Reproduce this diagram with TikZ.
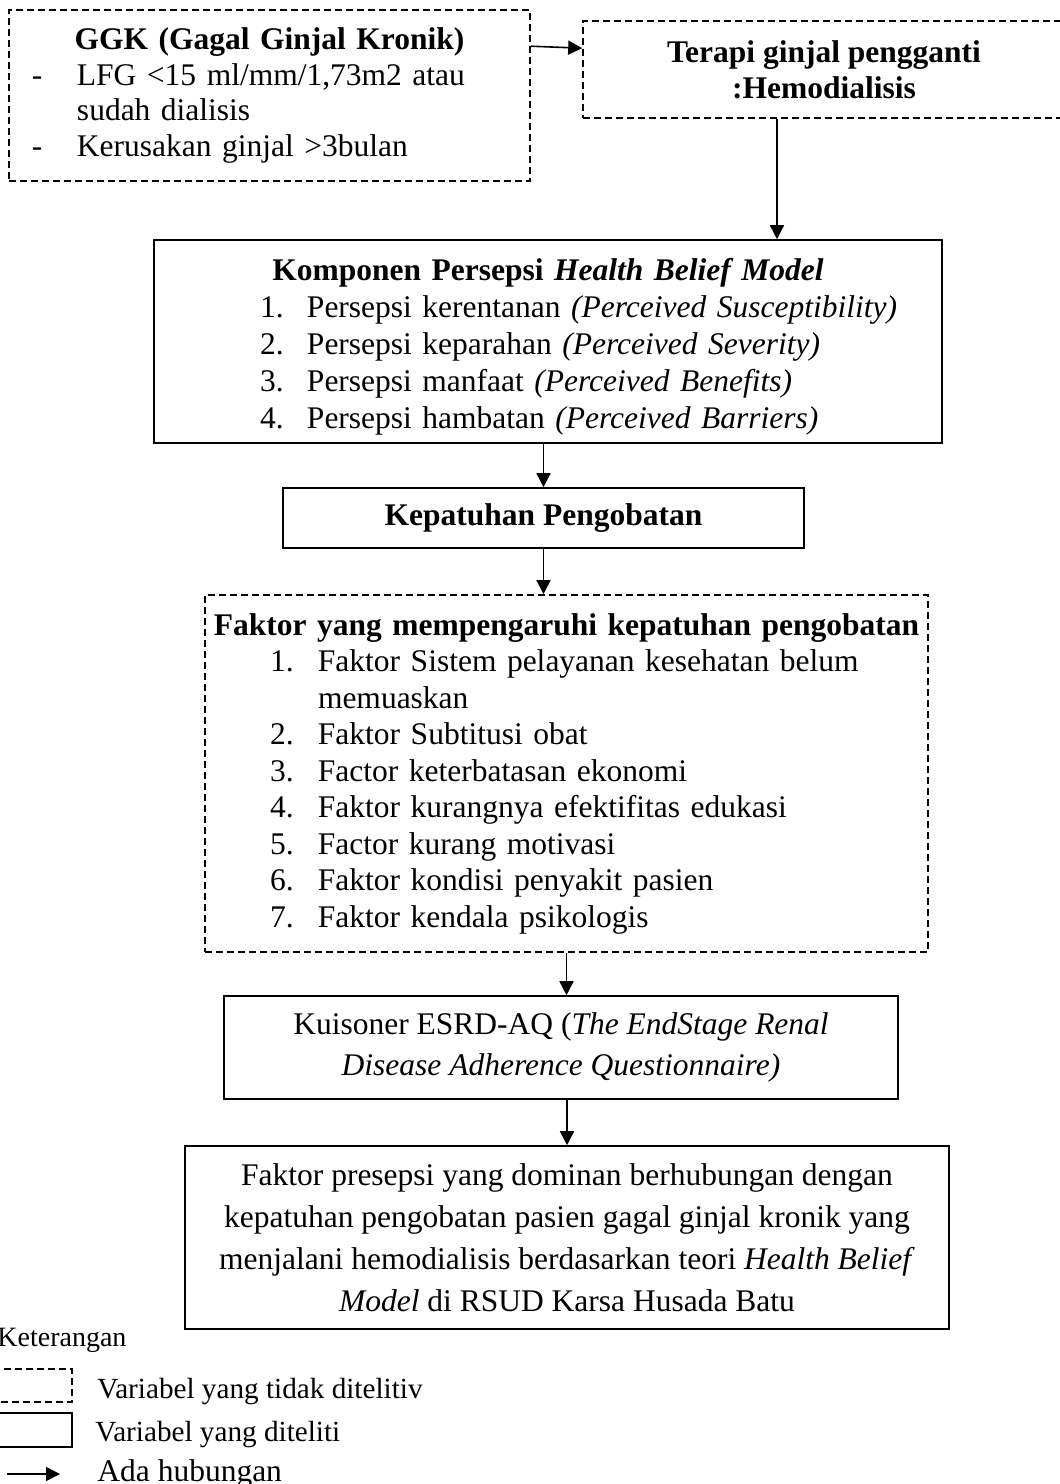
\documentclass[tikz,border=0pt]{standalone}
\usepackage{fontspec}
\setmainfont{Liberation Serif}
\usetikzlibrary{arrows.meta}
% one line of a list: indent, label width, label, text
\newcommand{\entry}[4]{\par\noindent\hspace*{#1}\makebox[#2][l]{#3}\mbox{#4}}

\begin{document}
\begin{tikzpicture}[x=0.5pt,y=-0.5pt,>={Triangle[length=7pt,width=7pt]},font=\fontsize{15.75pt}{18.25pt}\selectfont]
\tikzset{box/.style={draw,line width=0.8pt,inner sep=0pt}, dbox/.style={box,dash pattern=on 3.5pt off 2pt}, flow/.style={->,line width=0.8pt}}
\useasboundingbox (0,0) rectangle (1060,1484);
\node[dbox,minimum width=260.5pt,minimum height=85.5pt,text width=260.5pt,font=\fontsize{15.75pt}{17.85pt}\selectfont] (ggk) at (269.5,95.5) {\noindent\makebox[\linewidth]{\textbf{GGK (Gagal Ginjal Kronik)}}
\entry{11.5pt}{22.5pt}{-}{LFG <15 ml/mm/1,73m2 atau}
\entry{34pt}{0pt}{}{sudah dialisis}
\entry{11.5pt}{22.5pt}{-}{Kerusakan ginjal >3bulan}};
\node[dbox,minimum width=241pt,minimum height=48.5pt,align=center,font=\fontsize{15.75pt}{18pt}\selectfont\bfseries] (terapi) at (824,69.5) {Terapi ginjal pengganti\\:Hemodialisis};
\node[box,minimum width=394pt,minimum height=101.5pt,text width=394pt,font=\fontsize{15.75pt}{18.5pt}\selectfont] (hbm) at (548,341.5) {\noindent\rule{0pt}{16pt}\makebox[\linewidth]{\textbf{Komponen Persepsi \textit{Health Belief Model}}}
\entry{53pt}{23.5pt}{1.}{Persepsi kerentanan \textit{(Perceived Susceptibility)}}
\entry{53pt}{23.5pt}{2.}{Persepsi keparahan \textit{(Perceived Severity)}}
\entry{53pt}{23.5pt}{3.}{Persepsi manfaat \textit{(Perceived Benefits)}}
\entry{53pt}{23.5pt}{4.}{Persepsi hambatan \textit{(Perceived Barriers)}}};
\node[box,minimum width=260.5pt,minimum height=30pt,font=\fontsize{15.75pt}{18.25pt}\selectfont\bfseries] (kep) at (543.5,518) {Kepatuhan Pengobatan};
\node[dbox,minimum width=361.5pt,minimum height=178.5pt,text width=361.5pt] (faktor) at (566.5,773.5) {\noindent\makebox[\linewidth]{\textbf{Faktor yang mempengaruhi kepatuhan pengobatan}}
\entry{32.5pt}{24pt}{1.}{Faktor Sistem pelayanan kesehatan belum}
\entry{56.5pt}{0pt}{}{memuaskan}
\entry{32.5pt}{24pt}{2.}{Faktor Subtitusi obat}
\entry{32.5pt}{24pt}{3.}{Factor keterbatasan ekonomi}
\entry{32.5pt}{24pt}{4.}{Faktor kurangnya efektifitas edukasi}
\entry{32.5pt}{24pt}{5.}{Factor kurang motivasi}
\entry{32.5pt}{24pt}{6.}{Faktor kondisi penyakit pasien}
\entry{32.5pt}{24pt}{7.}{Faktor kendala psikologis}};
\node[box,minimum width=337pt,minimum height=51.5pt,align=center,font=\fontsize{15.75pt}{20.5pt}\selectfont] (kuis) at (561,1047.5) {Kuisoner ESRD-AQ (\textit{The EndStage Renal}\\\textit{Disease Adherence Questionnaire)}};
\node[box,minimum width=382pt,minimum height=91.5pt,align=center,font=\fontsize{15.75pt}{21pt}\selectfont] (hasil) at (567,1237.5) {Faktor presepsi yang dominan berhubungan dengan\\kepatuhan pengobatan pasien gagal ginjal kronik yang\\menjalani hemodialisis berdasarkan teori \textit{Health Belief}\\\textit{Model} di RSUD Karsa Husada Batu};
\draw[flow] ([yshift=-18.5pt]ggk.north east) -- ([yshift=-14pt]terapi.north west);
\draw[flow] ([xshift=-23.5pt]terapi.south) -- ([xshift=-23.5pt]terapi.south |- hbm.north);
\draw[flow] (kep.north |- hbm.south) -- (kep.north);
\draw[flow] (kep.south) -- (kep.south |- faktor.north);
\draw[flow] (faktor.south) -- (faktor.south |- kuis.north);
\draw[flow] (hasil.north |- kuis.south) -- (hasil.north);
% keterangan
\node[anchor=base west,inner sep=0pt,font=\fontsize{14pt}{16pt}\selectfont] (ket) at (-3,1346) {Keterangan};
\node[dbox,minimum width=41pt,minimum height=16.5pt] (lgdash) at (31,1385.5) {};
\node[box,minimum width=41pt,minimum height=17pt] (lgsolid) at (31,1430) {};
\node[anchor=base west,inner sep=0pt,font=\fontsize{14.6pt}{16pt}\selectfont] (lgdashtxt) at (97,1398) {Variabel yang tidak ditelitiv};
\node[anchor=base west,inner sep=0pt,font=\fontsize{14.6pt}{16pt}\selectfont] (lgsolidtxt) at (95,1441) {Variabel yang diteliti};
\coordinate (lga) at (7,1474);
\coordinate (lgb) at (60,1474);
\draw[flow] (lga) -- (lgb);
\node[anchor=base west,inner sep=0pt] (lgarrowtxt) at (97,1481) {Ada hubungan};
\end{tikzpicture}
\end{document}
